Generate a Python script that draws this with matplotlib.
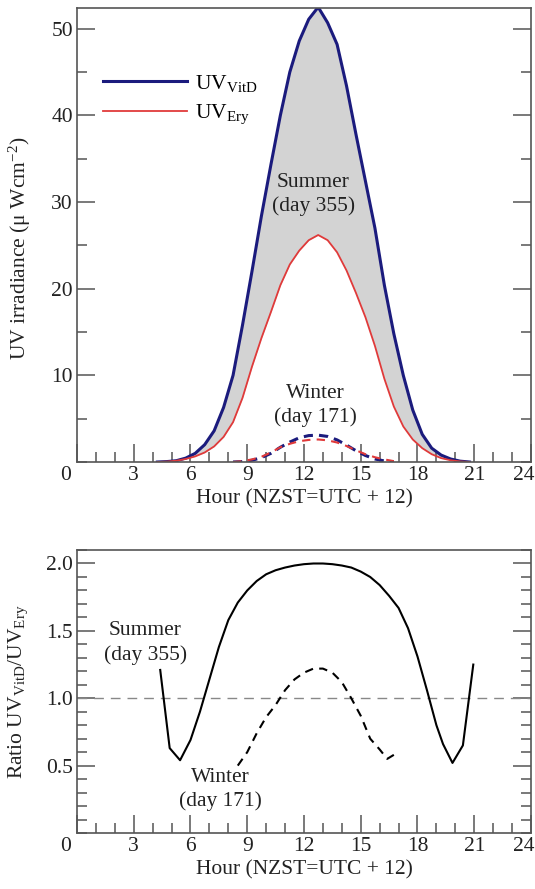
import matplotlib
matplotlib.use("Agg")
import matplotlib.pyplot as plt
from matplotlib.ticker import MultipleLocator

plt.rcParams['font.family'] = ['Liberation Serif', 'DejaVu Serif']
plt.rcParams['mathtext.fontset'] = 'custom'
plt.rcParams['mathtext.rm'] = 'Liberation Serif'
plt.rcParams['mathtext.it'] = 'Liberation Serif:italic'
plt.rcParams['font.size'] = 15.5

# ---------------- data ----------------
hours_summer = [4.25, 4.75, 5.25, 5.75, 6.25, 6.75, 7.25, 7.75, 8.25, 8.75, 9.25, 9.75,
                10.25, 10.75, 11.25, 11.75, 12.25, 12.75, 13.25, 13.75, 14.25, 14.75,
                15.25, 15.75, 16.25, 16.75, 17.25, 17.75, 18.25, 18.75, 19.25, 19.75,
                20.25, 20.75]
vitd_summer = [0.0, 0.05, 0.15, 0.45, 1.0, 2.0, 3.6, 6.3, 10.0, 15.8, 22.0, 28.4,
               34.3, 40.0, 45.0, 48.6, 51.1, 52.5, 50.7, 48.2, 43.4, 37.8,
               32.4, 27.0, 20.4, 14.8, 10.0, 6.0, 3.2, 1.6, 0.8, 0.35, 0.1, 0.0]
ery_summer = [0.0, 0.05, 0.15, 0.35, 0.65, 1.1, 1.8, 2.9, 4.6, 7.4, 11.0, 14.3,
              17.3, 20.4, 22.8, 24.4, 25.6, 26.2, 25.6, 24.2, 22.1, 19.5,
              16.7, 13.4, 9.6, 6.4, 4.1, 2.6, 1.6, 0.9, 0.45, 0.2, 0.07, 0.0]

hours_winter = [8.25, 8.75, 9.25, 9.75, 10.25, 10.75, 11.25, 11.75, 12.25, 12.75,
                13.25, 13.75, 14.25, 14.75, 15.25, 15.75, 16.25, 16.75]
vitd_winter = [0.0, 0.05, 0.2, 0.5, 1.0, 1.7, 2.3, 2.8, 3.05, 3.1,
               2.95, 2.55, 1.95, 1.3, 0.75, 0.35, 0.12, 0.02]
ery_winter = [0.0, 0.1, 0.3, 0.6, 1.1, 1.7, 2.1, 2.4, 2.55, 2.6,
              2.5, 2.25, 1.85, 1.35, 0.9, 0.55, 0.3, 0.1]

ratio_hours_summer = [4.4, 4.9, 5.45, 6.0, 6.5, 7.0, 7.5, 8.0, 8.5, 9.0, 9.5, 10.0,
                      10.5, 11.0, 11.5, 12.0, 12.5, 13.0, 13.5, 14.0, 14.5, 15.0,
                      15.5, 16.0, 16.5, 17.0, 17.5, 18.0, 18.5, 19.0, 19.35, 19.85,
                      20.4, 20.95]
ratio_summer = [1.21, 0.63, 0.54, 0.69, 0.90, 1.14, 1.38, 1.58, 1.71, 1.80, 1.87, 1.92,
                1.95, 1.97, 1.985, 1.995, 2.0, 2.0, 1.995, 1.985, 1.97, 1.94,
                1.90, 1.84, 1.76, 1.67, 1.52, 1.31, 1.06, 0.80, 0.66, 0.52,
                0.65, 1.25]
ratio_hours_winter = [8.5, 9.0, 9.5, 10.0, 10.5, 11.0, 11.5, 12.0, 12.5, 13.0, 13.5,
                      14.0, 14.5, 15.0, 15.5, 16.0, 16.4, 16.75]
ratio_winter = [0.50, 0.60, 0.74, 0.86, 0.95, 1.06, 1.14, 1.19, 1.22, 1.22, 1.19,
                1.12, 1.00, 0.87, 0.70, 0.62, 0.55, 0.58]

xticks = [0, 3, 6, 9, 12, 15, 18, 21, 24]
xtick_labels = ['', '3', '6', '9', '12', '15', '18', '21', '']

# ---------------- styling ----------------
BLUE = '#1b1b7d'
RED = '#e03a3a'
FILL = '#d3d3d3'
SPINE = '#555555'
TXT = '#222222'

fig = plt.figure(figsize=(5.35, 8.89), dpi=100)
ax1 = fig.add_axes([0.1439, 0.4803, 0.8486, 0.5107])
ax2 = fig.add_axes([0.1439, 0.0630, 0.8486, 0.3183])

def style(ax, ymajor, yminor):
    ax.set_xlim(0, 24)
    ax.set_xticks(xticks)
    ax.set_xticklabels(xtick_labels)
    ax.xaxis.set_minor_locator(MultipleLocator(1))
    ax.yaxis.set_major_locator(MultipleLocator(ymajor))
    ax.yaxis.set_minor_locator(MultipleLocator(yminor))
    ax.tick_params(which='both', direction='in', top=False, right=True,
                   color=SPINE, width=1.1, labelcolor=TXT)
    ax.tick_params(which='major', length=13, pad=3)
    ax.tick_params(which='minor', length=7)
    for s in ax.spines.values():
        s.set_color(SPINE)
        s.set_linewidth(1.2)
    ax.set_xlabel('Hour (NZST=UTC + 12)', color=TXT, labelpad=3)
    ax.annotate('0', xy=(0, 0), xycoords=('data', 'axes fraction'),
                xytext=(-8, -3), textcoords='offset points',
                ha='center', va='top', color=TXT)
    ax.annotate('24', xy=(24, 0), xycoords=('data', 'axes fraction'),
                xytext=(-5, -3), textcoords='offset points',
                ha='center', va='top', color=TXT)

# ---------------- top panel ----------------
ax1.fill_between(hours_summer, ery_summer, vitd_summer, color=FILL, lw=0)
l1, = ax1.plot(hours_summer, vitd_summer, color=BLUE, lw=2.2, label=r'UV$_{\mathrm{VitD}}$')
l2, = ax1.plot(hours_summer, ery_summer, color=RED, lw=1.3, label=r'UV$_{\mathrm{Ery}}$')
ax1.plot(hours_winter, vitd_winter, color=BLUE, lw=2.2, ls=(0, (3, 2)))
ax1.plot(hours_winter, ery_winter, color=RED, lw=1.5, ls=(0, (4, 3)))
ax1.set_ylim(0, 52.4)
style(ax1, 10, 5)
ax1.set_yticks([10, 20, 30, 40, 50])
ax1.set_ylabel('UV irradiance (μ Wcm$^{-2}$)', color=TXT)
ax1.yaxis.set_label_coords(-0.097, 0.47)
ax1.text(12.5, 30.9, 'Summer\n(day 355)', ha='center', va='center', color=TXT,
         linespacing=1.3)
ax1.text(12.6, 6.5, 'Winter\n(day 171)', ha='center', va='center', color=TXT,
         linespacing=1.3)
ax1.legend(handles=[l1, l2], loc='upper left', bbox_to_anchor=(0.057, 0.857),
           frameon=False, borderaxespad=0, borderpad=0, handlelength=3.9,
           handletextpad=0.4, labelspacing=0.4)

# ---------------- bottom panel ----------------
ax2.axhline(1.0, color='#888888', lw=1.0, ls=(0, (7, 5)))
ax2.plot(ratio_hours_summer, ratio_summer, color='black', lw=1.5)
ax2.plot(ratio_hours_winter, ratio_winter, color='black', lw=1.5, ls=(0, (4, 3)))
ax2.set_ylim(0, 2.1)
style(ax2, 0.5, 0.1)
ax2.set_yticks([0.5, 1.0, 1.5, 2.0])
ax2.set_ylabel(r'Ratio UV$_{\mathrm{VitD}}$/UV$_{\mathrm{Ery}}$', color=TXT)
ax2.yaxis.set_label_coords(-0.104, 0.5)
ax2.text(3.6, 1.41, 'Summer\n(day 355)', ha='center', va='center', color=TXT,
         linespacing=1.3)
ax2.text(7.56, 0.32, 'Winter\n(day 171)', ha='center', va='center', color=TXT,
         linespacing=1.3)

fig.savefig('out.png', dpi=100)
